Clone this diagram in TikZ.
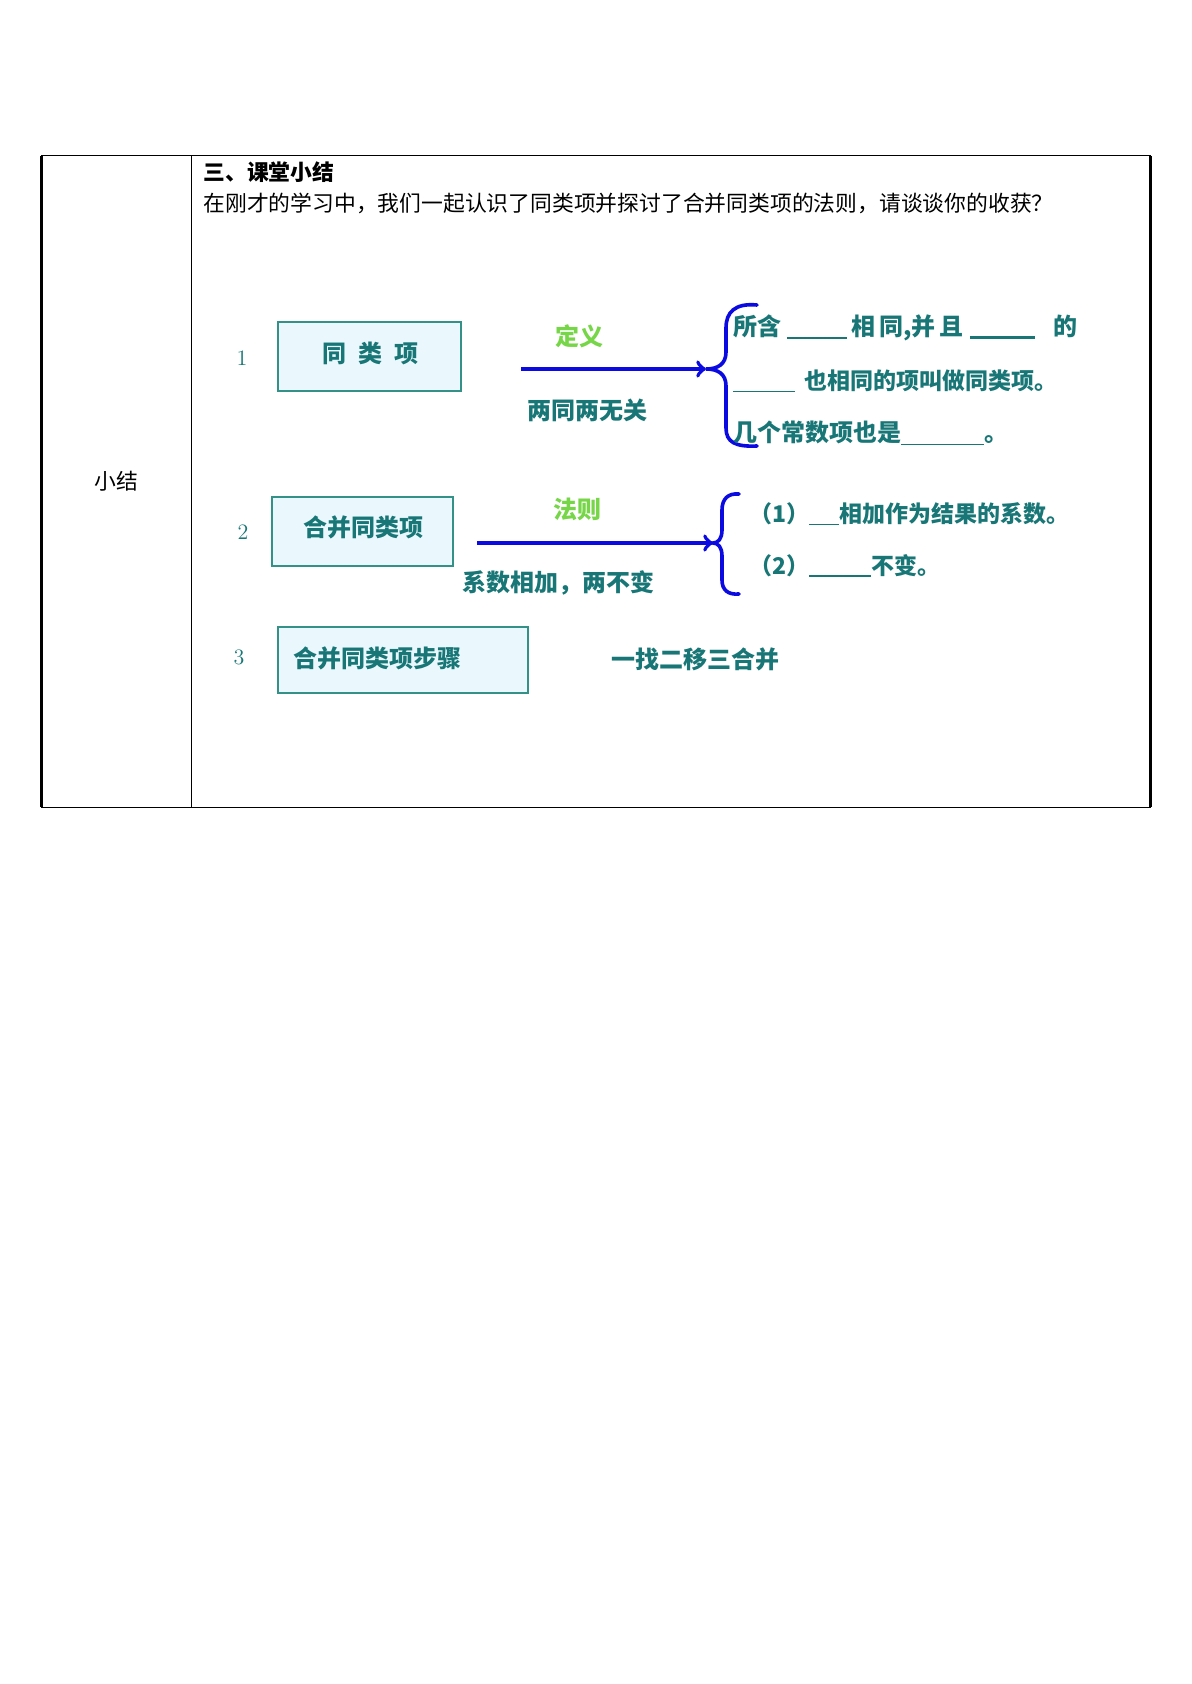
\documentclass[tikz,border=0pt]{standalone}
\usepackage{fontspec}
\newfontfamily\cjk{Noto Sans CJK SC}
\definecolor{tealtext}{RGB}{24,118,118}
\definecolor{tealline}{RGB}{52,145,135}
\definecolor{boxfill}{RGB}{234,248,253}
\definecolor{lightgreen}{RGB}{118,214,72}
\definecolor{flowblue}{RGB}{10,10,225}
\newcommand\blankbar[2]{\rule[-1.5pt]{#1}{#2}}
\tikzset{%
  termbox/.style  = {shape=rectangle, draw=tealline, fill=boxfill,%
                     line width=1pt, inner sep=0pt},%
  term/.style     = {font=\cjk\bfseries\fontsize{12}{14}\selectfont, text=tealtext},%
  bold/.style     = {font=\cjk\bfseries\fontsize{12}{14}\selectfont, text=tealtext},%
  rule/.style     = {font=\cjk\bfseries\fontsize{11.5}{14}\selectfont, text=tealtext,%
                     anchor=west, inner sep=0pt},%
  tag/.style      = {font=\cjk\bfseries\fontsize{12}{14}\selectfont, text=lightgreen},%
  num/.style      = {font=\fontsize{11}{13}\selectfont, text=tealtext},%
  flow/.style     = {->, draw=flowblue, line width=2pt},%
  bracket/.style  = {draw=flowblue, line width=1.8pt, line cap=round}%
}
\begin{document}
\begin{tikzpicture}[x=0.5pt,y=-0.5pt,
every node/.style = {font=\cjk\fontsize{10.9}{13}\selectfont}]
	\useasboundingbox (0,0) rectangle (1191,1684);
	\draw [line width=0.5pt] (41,156) rectangle (1150,807);
	\draw [line width=1.5pt] (41,156) -- (41,807);
	\draw [line width=1.5pt] (1150,156) -- (1150,807);
	\draw [line width=0.5pt] (191,156) -- (191,807);
	\node (cell) at (116,481) {小结};
	\node [anchor=west,inner sep=0pt,font=\cjk\bfseries\fontsize{10.9}{13}\selectfont] (head) at (203,172) {三、课堂小结};
	\node [anchor=west,inner sep=0pt] (ask) at (203,203) {在刚才的学习中，我们一起认识了同类项并探讨了合并同类项的法则，请谈谈你的收获？};

	\node [num] (n1) at (242,358) {1};
	\node [termbox,minimum width=91.5pt,minimum height=34.5pt] (like) at (369.5,356.5) {};
	\node [term] (liket) at (370,353) {同\hspace{6pt}类\hspace{6pt}项};
	\coordinate (from1) at (521,369);
	\coordinate (tip1) at (706,369);
	\draw [flow] (from1) -- (tip1);
	\node [tag] (def) at (579,336) {定义};
	\node [bold] (twotwo) at (587,410) {两同两无关};
	\draw [bracket] (757,305) .. controls (735,303) and (726,312) .. (726,328) -- (726,352)
		.. controls (726,364) and (718,369) .. (tip1)
		.. controls (718,369) and (726,374) .. (726,386) -- (726,428)
		.. controls (726,442) and (735,447) .. (757,446);
	\node [rule,font=\cjk\bfseries\fontsize{12}{14}\selectfont] (d1) at (733,328)
		{所含\hspace{3pt}\blankbar{30pt}{0.6pt}\hspace{2pt}相\hspace{2pt}同,并\hspace{2pt}且\hspace{3pt}\blankbar{32.5pt}{1.3pt}\hspace{9.5pt}的};
	\node [rule] (d2) at (733,381) {\blankbar{31pt}{0.6pt}\hspace{4.5pt}也相同的项叫做同类项。};
	\node [rule,font=\cjk\bfseries\fontsize{12}{14}\selectfont] (d3) at (733,433) {几个常数项也是\blankbar{41.5pt}{0.6pt}。};

	\node [num] (n2) at (243,532) {2};
	\node [termbox,minimum width=90.5pt,minimum height=34.5pt] (merge) at (362.5,531.5) {};
	\node [term] (merget) at (363,527) {合并同类项};
	\coordinate (from2) at (477,543);
	\coordinate (tip2) at (713,543);
	\draw [flow] (from2) -- (tip2);
	\node [tag] (law) at (577,509) {法则};
	\node [bold] (coef) at (558,583) {系数相加，两不变};
	\draw [bracket] (739,494) .. controls (728,493) and (722,499) .. (722,510) -- (722,530)
		.. controls (722,539) and (718,543) .. (tip2)
		.. controls (718,543) and (722,547) .. (722,556) -- (722,580)
		.. controls (722,590) and (728,595) .. (739,594);
	\node [rule] (r1) at (749,514) {（1）\blankbar{15pt}{0.6pt}相加作为结果的系数。};
	\node [rule] (r2) at (749,566) {（2）\blankbar{31pt}{1.3pt}不变。};

	\node [num] (n3) at (239,657) {3};
	\node [termbox,minimum width=125pt,minimum height=33pt] (steps) at (403,660) {};
	\node [term,anchor=west,inner sep=0pt] (stepst) at (293,658) {合并同类项步骤};
	\node [bold] (find) at (695,659) {一找二移三合并};
\end{tikzpicture}
\end{document}
